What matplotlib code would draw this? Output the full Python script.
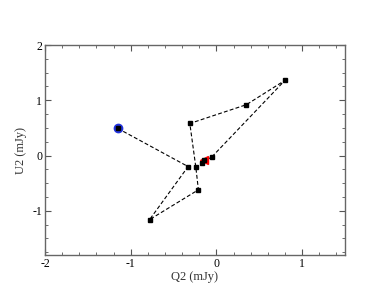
import matplotlib
matplotlib.use("Agg")
import matplotlib.pyplot as plt
from matplotlib.ticker import MultipleLocator

# Q2/U2 track, in the order the points are joined
q2 = [-1.15, -0.33, -0.78, -0.21, -0.24, -0.31, 0.35, 0.80, -0.05, -0.17, -0.14]
u2 = [0.49, -0.20, -1.16, -0.62, -0.21, 0.58, 0.92, 1.36, -0.02, -0.13, -0.08]

plt.rcParams['font.family'] = ['Liberation Serif', 'DejaVu Serif']
plt.rcParams['axes.unicode_minus'] = False

fig = plt.figure(figsize=(3.88, 3.0), dpi=100)
ax = fig.add_axes([0.116, 0.15, 0.773, 0.70])

ax.plot(q2, u2, linestyle=(0, (3.5, 2)), color='black', lw=0.8, zorder=2)
# start and end markers
ax.plot(q2[0], u2[0], 'o', color='#2233dd', ms=6, zorder=3)
ax.plot(q2[-1], u2[-1], '<', color='red', ms=6, zorder=3)
ax.plot(q2, u2, 's', color='black', ms=2.8, zorder=4)

ax.set_xlim(-2, 1.5)
ax.set_ylim(-1.8, 2)
ax.xaxis.set_major_locator(MultipleLocator(1))
ax.xaxis.set_minor_locator(MultipleLocator(0.2))
ax.yaxis.set_major_locator(MultipleLocator(1))
ax.yaxis.set_minor_locator(MultipleLocator(0.25))
ax.tick_params(which='both', direction='in', top=True, right=True,
               color='#555555', labelsize=8.5, pad=2)
ax.tick_params(which='major', length=4)
ax.tick_params(which='minor', length=2)
for s in ax.spines.values():
    s.set_color('#666666')
    s.set_linewidth(1.0)

ax.set_xlabel('Q2 (mJy)', fontsize=9, color='#333333', labelpad=1)
ax.set_ylabel('U2 (mJy)', fontsize=9, color='#333333', labelpad=4)

fig.savefig('out.png', dpi=100)
